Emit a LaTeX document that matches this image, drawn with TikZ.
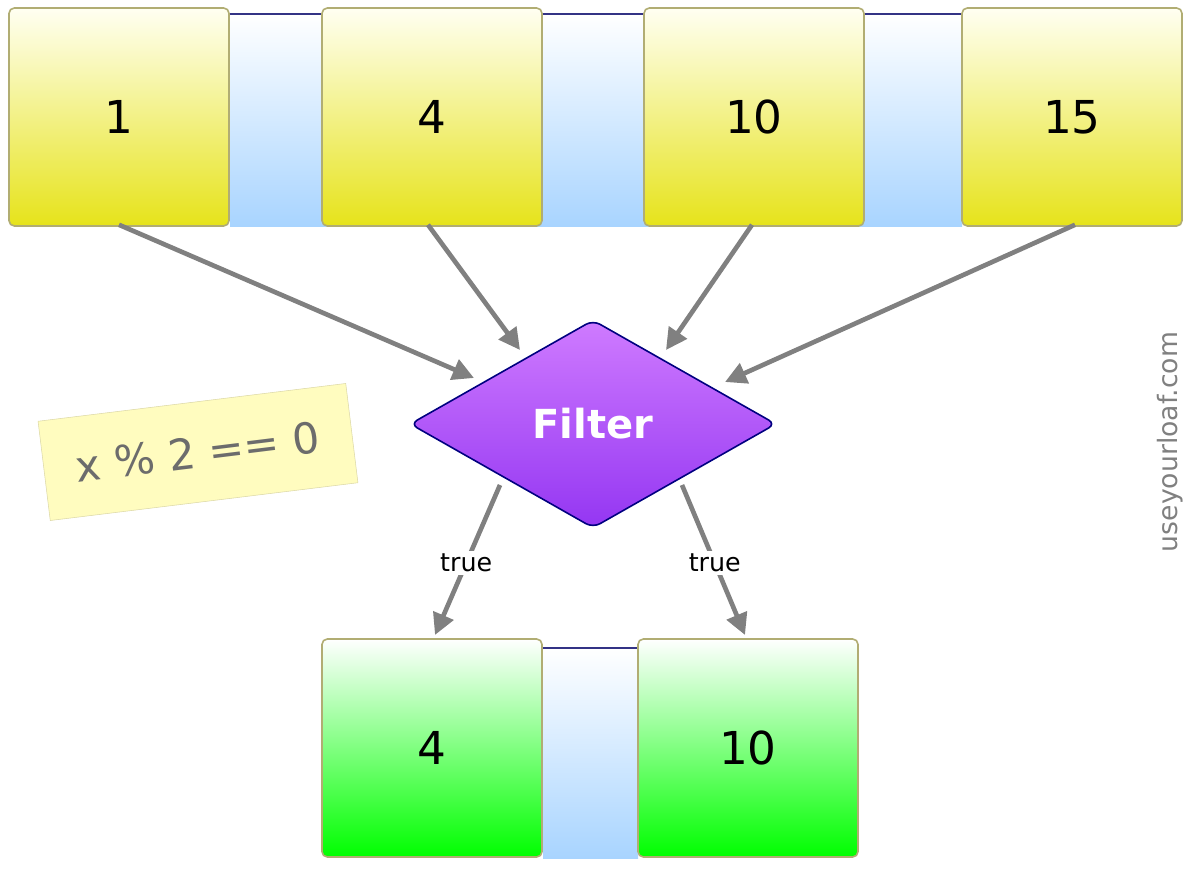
\documentclass[tikz,border=0pt]{standalone}
\usepackage{fontspec}
\setmainfont{DejaVu Sans}
\usetikzlibrary{shapes.geometric,arrows.meta}
\definecolor{sky}{HTML}{A8D4FF}
\definecolor{ptop}{HTML}{CF7BFF}
\definecolor{pbot}{HTML}{9436F2}
\definecolor{ybot}{HTML}{E6E31A}
\begin{document}
\begin{tikzpicture}[x=0.75pt,y=-0.75pt,
 ybox/.style={draw=yellow!50!black!70,rounded corners=4pt,line width=1.2pt,top color=yellow!5,bottom color=ybot,minimum width=220*0.75pt,minimum height=218*0.75pt,inner sep=0pt,font=\fontsize{34}{36}\selectfont},
 gbox/.style={ybox,top color=white,bottom color=green},
 strip/.style={top color=white,bottom color=sky,draw=none},
 arr/.style={draw=gray,line width=3.5pt,-{Triangle[length=16pt,width=16pt]}},
 lab/.style={fill=white,inner sep=2pt,font=\fontsize{19}{20}\selectfont}]
\useasboundingbox (0,0) rectangle (1200,873);
% strips
\shade[strip] (230,14) rectangle (962,227);
\draw[blue!40!black!80,line width=1.2pt] (230,14) -- (962,14);
\shade[strip] (543,648) rectangle (638,858);
\draw[blue!40!black!80,line width=1.2pt] (543,648) -- (638,648);
% top boxes
\node[ybox] (a1) at (119,117) {1};
\node[ybox] (a2) at (432,117) {4};
\node[ybox] (a3) at (754,117) {10};
\node[ybox] (a4) at (1072,117) {15};
% bottom boxes
\node[gbox] (b1) at (432,748) {4};
\node[gbox] (b2) at (748,748) {10};
% diamond
\node[diamond,draw=blue!50!black,line width=1.2pt,top color=ptop,bottom color=pbot,minimum width=366*0.75pt,minimum height=208*0.75pt,inner sep=0pt,rounded corners=6pt,text=white,font=\bfseries\fontsize{30}{32}\selectfont] (f) at (593,424) {Filter};
\coordinate (e1) at (474,378);
\coordinate (e2) at (520,350);
\coordinate (e3) at (666,350);
\coordinate (e4) at (725,382);
\draw[arr] (a1.south) ++(0,-2) -- (e1);
\draw[arr] (a2.south) ++(-4,-2) -- (e2);
\draw[arr] (a3.south) ++(-2,-2) -- (e3);
\draw[arr] (a4.south) ++(3,-2) -- (e4);
\coordinate (s1) at (500,485);
\coordinate (s2) at (682,485);
\draw[arr] (s1) -- node[lab,pos=0.52]{true} (435,635);
\draw[arr] (s2) -- node[lab,pos=0.52]{true} (745,635);
% note
\node[rotate=7,fill=yellow!25,draw=yellow!60!black!40,minimum width=310*0.75pt,minimum height=100*0.75pt,text=gray!85!black,font=\fontsize{32}{34}\selectfont] (n) at (198,452) {x \% 2 == 0};
\node[rotate=90,text=gray,font=\fontsize{20}{22}\selectfont] (w) at (1170,442) {useyourloaf.com};
\end{tikzpicture}
\end{document}
